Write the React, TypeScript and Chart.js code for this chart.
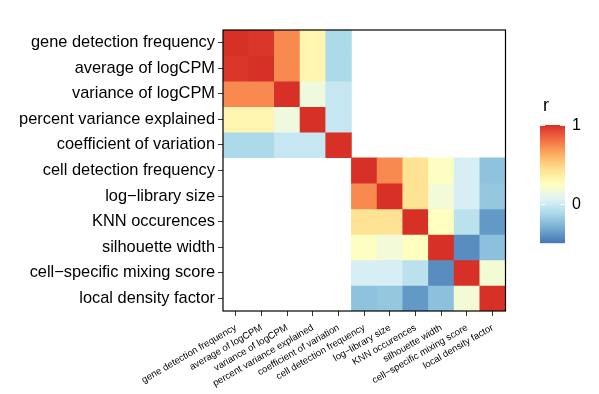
import React, { useEffect, useRef } from "react";
import { Chart, registerables } from "chart.js";
Chart.register(...registerables);

const featureLabels = [
  "gene detection frequency",
  "average of logCPM",
  "variance of logCPM",
  "percent variance explained",
  "coefficient of variation",
  "cell detection frequency",
  "log\u2212library size",
  "KNN occurences",
  "silhouette width",
  "cell\u2212specific mixing score",
  "local density factor",
];

// gene-level feature correlations (rows/cols 0..4)
const geneFeatureCorr = [
  [1.0, 0.98, 0.73, 0.31, -0.12],
  [0.98, 1.0, 0.73, 0.31, -0.12],
  [0.73, 0.73, 1.0, 0.15, -0.03],
  [0.31, 0.31, 0.15, 1.0, -0.03],
  [-0.12, -0.12, -0.03, -0.03, 1.0],
];

// cell-level feature correlations (rows/cols 5..10)
const cellFeatureCorr = [
  [1.0, 0.73, 0.42, 0.24, 0.03, -0.22],
  [0.73, 1.0, 0.42, 0.17, 0.03, -0.2],
  [0.42, 0.42, 1.0, 0.25, -0.07, -0.38],
  [0.24, 0.17, 0.25, 1.0, -0.42, -0.23],
  [0.03, 0.03, -0.07, -0.42, 1.0, 0.18],
  [-0.22, -0.2, -0.38, -0.23, 0.18, 1.0],
];

const colorRange = [-0.5, 1];
const legendTicks = [0, 1];
const legendTitle = "r";
const paletteRdYlBu = [
  "#d73027", "#f46d43", "#fdae61", "#fee090", "#ffffbf",
  "#e0f3f8", "#abd9e9", "#74add1", "#4575b4",
];

function hexToRgb(h: string) {
  const n = parseInt(h.slice(1), 16);
  return [(n >> 16) & 255, (n >> 8) & 255, n & 255];
}

function colorFor(v: number | null) {
  if (v === null || v === undefined) return "rgba(255,255,255,0)";
  const [lo, hi] = colorRange;
  let t = (hi - v) / (hi - lo);
  t = Math.max(0, Math.min(1, t));
  const pos = t * (paletteRdYlBu.length - 1);
  const i = Math.min(paletteRdYlBu.length - 2, Math.floor(pos));
  const f = pos - i;
  const a = hexToRgb(paletteRdYlBu[i]);
  const b = hexToRgb(paletteRdYlBu[i + 1]);
  const c = a.map((x, k) => Math.round(x + (b[k] - x) * f));
  return `rgb(${c[0]},${c[1]},${c[2]})`;
}

function buildMatrix(): (number | null)[][] {
  const n = featureLabels.length;
  const g = geneFeatureCorr.length;
  const m: (number | null)[][] = [];
  for (let i = 0; i < n; i++) {
    const row: (number | null)[] = [];
    for (let j = 0; j < n; j++) {
      if (i < g && j < g) row.push(geneFeatureCorr[i][j]);
      else if (i >= g && j >= g) row.push(cellFeatureCorr[i - g][j - g]);
      else row.push(null);
    }
    m.push(row);
  }
  return m;
}

const FONT = "'Liberation Sans', Arial, Helvetica, sans-serif";

export default function App() {
  const ref = useRef<HTMLCanvasElement | null>(null);

  useEffect(() => {
    document.body.style.margin = "0";
    const canvas = ref.current;
    if (!canvas) return;
    const matrix = buildMatrix();

    const datasets = featureLabels.map((rowLabel, i) => ({
      label: rowLabel,
      data: featureLabels.map(() => 1),
      backgroundColor: matrix[i].map((v) => colorFor(v)),
      borderWidth: 0,
      barPercentage: 1,
      categoryPercentage: 1,
      stack: "heat",
    }));

    const framePlugin = {
      id: "frame",
      afterDatasetsDraw(chart: any) {
        const { ctx, chartArea } = chart;
        ctx.save();
        ctx.strokeStyle = "#000";
        ctx.lineWidth = 1.2;
        ctx.strokeRect(chartArea.left, chartArea.top, chartArea.right - chartArea.left, chartArea.bottom - chartArea.top);
        ctx.restore();
      },
    };

    const colorbarPlugin = {
      id: "colorbar",
      afterDraw(chart: any) {
        const ctx = chart.ctx as CanvasRenderingContext2D;
        const x = 540, w = 25, top = 125, h = 118;
        const [lo, hi] = colorRange;
        const yFor = (v: number) => top + ((hi - v) / (hi - lo)) * h;
        ctx.save();
        for (let k = 0; k < h; k++) {
          const v = hi - ((k + 0.5) / h) * (hi - lo);
          ctx.fillStyle = colorFor(v);
          ctx.fillRect(x, top + k, w, 1.2);
        }
        ctx.strokeStyle = "rgba(255,255,255,0.9)";
        ctx.lineWidth = 1;
        legendTicks.forEach((t) => {
          const y = Math.round(yFor(t)) + 0.5;
          ctx.beginPath();
          ctx.moveTo(x, y); ctx.lineTo(x + 5, y);
          ctx.moveTo(x + w - 5, y); ctx.lineTo(x + w, y);
          ctx.stroke();
        });
        ctx.fillStyle = "#000";
        ctx.font = `16px ${FONT}`;
        ctx.textAlign = "left";
        ctx.textBaseline = "middle";
        legendTicks.forEach((t) => {
          ctx.fillText(String(t), x + w + 7, yFor(t) + 1);
        });
        ctx.font = `18px ${FONT}`;
        ctx.textBaseline = "alphabetic";
        ctx.fillText(legendTitle, x + 3, 111);
        ctx.restore();
      },
    };

    const chart = new Chart(canvas, {
      type: "bar",
      data: { labels: featureLabels, datasets },
      options: {
        animation: false,
        responsive: false,
        devicePixelRatio: 1,
        layout: { padding: { left: 0, top: 30, right: 93.5, bottom: 0 } },
        plugins: { legend: { display: false }, tooltip: { enabled: false } },
        scales: {
          x: {
            type: "category",
            stacked: true,
            offset: true,
            grid: { display: true, drawOnChartArea: false, drawTicks: true, tickLength: 5, color: "#333", offset: false },
            border: { display: false },
            ticks: {
              autoSkip: false,
              minRotation: 30,
              maxRotation: 30,
              padding: 6,
              color: "#000",
              font: { family: FONT, size: 9.6 },
            },
            afterFit: (scale: any) => { scale.height = 83; },
          },
          y: {
            type: "linear",
            stacked: true,
            min: 0,
            max: featureLabels.length,
            reverse: true,
            grid: { display: true, drawOnChartArea: false, drawTicks: true, tickLength: 5, color: "#333" },
            border: { display: false },
            afterBuildTicks: (scale: any) => {
              scale.ticks = featureLabels.map((_, i) => ({ value: i + 0.5 }));
            },
            ticks: {
              autoSkip: false,
              padding: 3,
              color: "#000",
              font: { family: FONT, size: 16.4 },
              callback: (value: any) => featureLabels[Math.round(Number(value) - 0.5)] ?? "",
            },
            afterFit: (scale: any) => { scale.width = 223; },
          },
        },
      },
      plugins: [framePlugin, colorbarPlugin],
    } as any);

    return () => chart.destroy();
  }, []);

  return (
    <div style={{ position: "absolute", left: 0, top: 0, width: 599, height: 394, background: "#fff" }}>
      <canvas ref={ref} width={599} height={394} />
    </div>
  );
}
